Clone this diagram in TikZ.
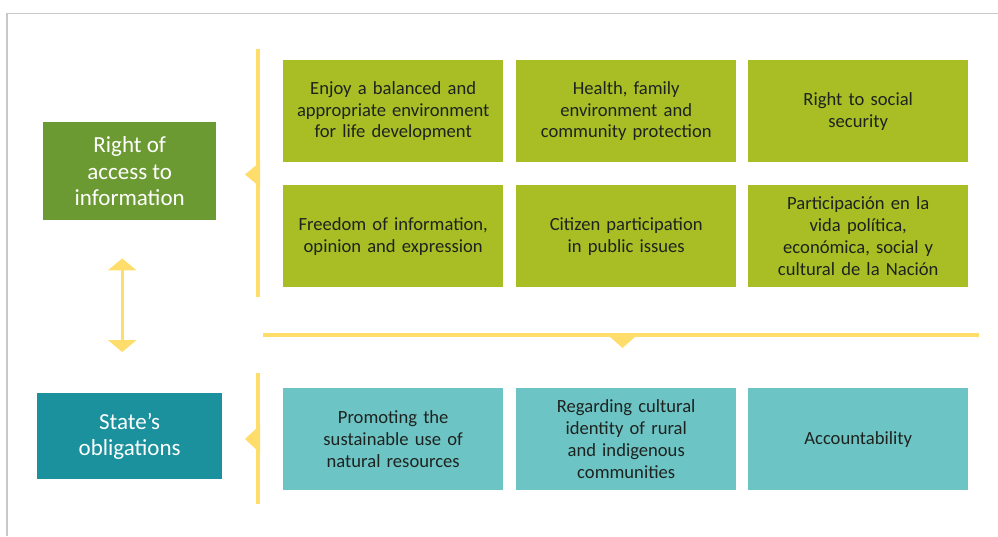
\documentclass[tikz,border=0pt]{standalone}
\usepackage{fontspec}
\setmainfont{Carlito}
\usetikzlibrary{arrows.meta}
\definecolor{leafgreen}{HTML}{A8BE24}
\definecolor{mossgreen}{HTML}{6C9A32}
\definecolor{deepteal}{HTML}{1A919D}
\definecolor{softteal}{HTML}{6DC4C4}
\definecolor{baryellow}{HTML}{FFDD6B}
\definecolor{framegray}{HTML}{C8C8C8}
\definecolor{inkdark}{HTML}{1E2320}
\begin{document}
\begin{tikzpicture}[x=1pt,y=-1pt,
  card/.style={anchor=north west, minimum width=220pt, minimum height=102pt,
    inner sep=0pt, text width=216pt, align=center,
    font=\fontsize{18.6}{21.8}\selectfont, text=inkdark},
  goodcard/.style={card, fill=leafgreen},
  dutycard/.style={card, fill=softteal},
  headbox/.style={anchor=north west, inner sep=0pt, align=center,
    text=white, font=\fontsize{23}{26.2}\selectfont},
  rail/.style={draw=baryellow, line width=4pt},
  notch/.style={fill=baryellow},
  link/.style={draw=baryellow, line width=3pt,
    {Triangle[width=28pt,length=12pt]}-{Triangle[width=28pt,length=12pt]}}]

\useasboundingbox (0,0) rectangle (998,536);
\fill[white] (0,0) rectangle (998,536);

% frame
\draw[framegray, line width=1.5pt] (7,536) -- (7,13.5) -- (998,13.5);

% left headers
\node[headbox, fill=mossgreen, minimum width=173pt, minimum height=98pt]
  (access) at (43,122) {Right of\\access to\\information};
\node[headbox, fill=deepteal, minimum width=185pt, minimum height=86pt]
  (duties) at (37,393) {State’s\\obligations};

% two-way link between headers
\coordinate (linktop) at ([xshift=-7.5pt,yshift=-38pt]access.south);
\coordinate (linkbot) at ([xshift=-7.5pt,yshift=41pt]duties.north);
\draw[link] (linktop) -- (linkbot);

% rights grid
\node[goodcard] (g11) at (283,60)  {Enjoy a balanced and\\appropriate environment\\for life development};
\node[goodcard] (g12) at (516,60)  {Health, family\\environment and\\community protection};
\node[goodcard] (g13) at (748,60)  {Right to social\\security};
\node[goodcard] (g21) at (283,185) {Freedom of information,\\opinion and expression};
\node[goodcard] (g22) at (516,185) {Citizen participation\\in public issues};
\node[goodcard] (g23) at (748,185) {Participación en la\\vida política,\\económica, social y\\cultural de la Nación};

% obligations row
\node[dutycard] (d1) at (283,388) {Promoting the\\sustainable use of\\natural resources};
\node[dutycard] (d2) at (516,388) {Regarding cultural\\identity of rural\\and indigenous\\communities};
\node[dutycard] (d3) at (748,388) {Accountability};

% brackets
\draw[rail] (258,49) -- (258,297);
\fill[notch] (260,162) -- (245,174.5) -- (260,187) -- cycle;

\draw[rail] (263,334.5) -- (979,334.5);
\fill[notch] (609,336) -- (622.5,348) -- (636,336) -- cycle;

\draw[rail] (258,373) -- (258,504);
\fill[notch] (260,425) -- (245,439) -- (260,453) -- cycle;
\end{tikzpicture}
\end{document}
